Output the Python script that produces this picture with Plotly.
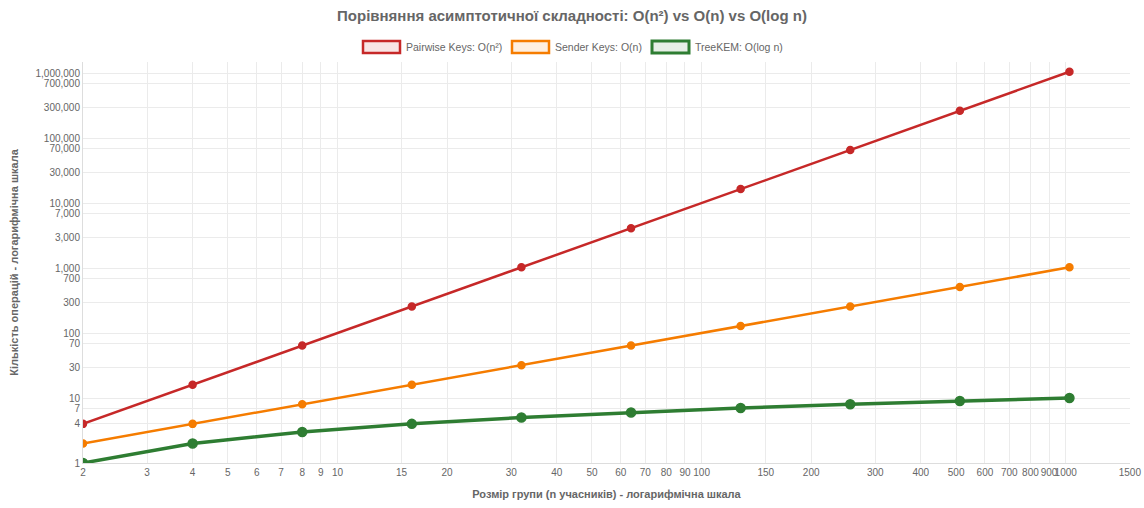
import plotly.graph_objects as go
import math

group_sizes = [2, 4, 8, 16, 32, 64, 128, 256, 512, 1024]
pairwise = [4, 16, 64, 256, 1024, 4096, 16384, 65536, 262144, 1048576]
sender = [2, 4, 8, 16, 32, 64, 128, 256, 512, 1024]
treekem = [1, 2, 3, 4, 5, 6, 7, 8, 9, 10]

series_names = ["Pairwise Keys: O(n²)", "Sender Keys: O(n)", "TreeKEM: O(log n)"]
series_colors = ["#c62828", "#f57c00", "#2e7d32"]
series_fill = ["rgba(198,40,40,0.12)", "rgba(245,124,0,0.12)", "rgba(46,125,50,0.12)"]
series_values = [pairwise, sender, treekem]
line_widths = [2.5, 2.5, 3.5]
marker_sizes = [7, 7, 9]

x_ticks = [2, 3, 4, 5, 6, 7, 8, 9, 10, 15, 20, 30, 40, 50, 60, 70, 80, 90, 100,
           150, 200, 300, 400, 500, 600, 700, 800, 900, 1000, 1500]
y_ticks = [1, 4, 7, 10, 30, 70, 100, 300, 700, 1000, 3000, 7000, 10000, 30000,
           70000, 100000, 300000, 700000, 1000000]

FONT = "Liberation Sans, Arial, sans-serif"

fig = go.Figure()
for name, color, vals, lw, ms in zip(series_names, series_colors, series_values, line_widths, marker_sizes):
    fig.add_trace(go.Scatter(
        x=group_sizes, y=vals, mode="lines+markers", name=name, showlegend=False,
        line=dict(color=color, width=lw),
        marker=dict(size=ms, color=color, line=dict(color=color, width=1.5)),
    ))

# Chart.js-style legend drawn with shapes + annotations (pixel -> paper conversion)
L, R, T, B = 83, 1130, 62, 463
def px(x):
    return (x - L) / (R - L)
def py(y):
    return (B - y) / (B - T)

legend_boxes = [363, 512, 652]
for i, (name, color, fillc) in enumerate(zip(series_names, series_colors, series_fill)):
    x0 = legend_boxes[i]
    fig.add_shape(type="rect", xref="paper", yref="paper",
                  x0=px(x0), x1=px(x0 + 37), y0=py(53), y1=py(41),
                  line=dict(color=color, width=3 if i == 2 else 2.5), fillcolor=fillc)
    fig.add_annotation(xref="paper", yref="paper", x=px(x0 + 41), y=py(47),
                       xanchor="left", yanchor="middle", showarrow=False,
                       text=name, font=dict(family=FONT, size=10.5, color="#666"))

grid = "#ebebeb"
tickfont = dict(family=FONT, size=10, color="#666")
fig.update_layout(
    width=1144, height=508,
    margin=dict(l=L, r=1144 - R, t=T, b=508 - B, autoexpand=False),
    paper_bgcolor="white", plot_bgcolor="white",
    showlegend=False,
    title=dict(text="<b>Порівняння асимптотичної складності: O(n²) vs O(n) vs O(log n)</b>",
               x=0.5, xanchor="center", y=1 - 16 / 508, yanchor="middle",
               font=dict(family=FONT, size=15, color="#666")),
    xaxis=dict(type="log", range=[math.log10(2), math.log10(1500) + 0.0005],
               tickvals=x_ticks, ticktext=[str(v) for v in x_ticks], tickangle=0,
               automargin=False,
               showgrid=True, gridcolor=grid, gridwidth=1, zeroline=False,
               showline=True, linecolor="#ddd", ticks="", tickfont=tickfont,
               title=dict(text="<b>Розмір групи (n учасників) - логарифмічна шкала</b>",
                          font=dict(family=FONT, size=11, color="#666"),
                          standoff=13)),
    yaxis=dict(type="log", range=[0, 6.17],
               tickvals=y_ticks, ticktext=[f"{v:,}" for v in y_ticks],
               automargin=False,
               showgrid=True, gridcolor=grid, gridwidth=1, zeroline=False,
               showline=True, linecolor="#ddd", ticks="", tickfont=tickfont,
               title=dict(text="<b>Кількість операцій - логарифмічна шкала</b>",
                          font=dict(family=FONT, size=11, color="#666"),
                          standoff=14)),
)
fig.write_html("out.html")
